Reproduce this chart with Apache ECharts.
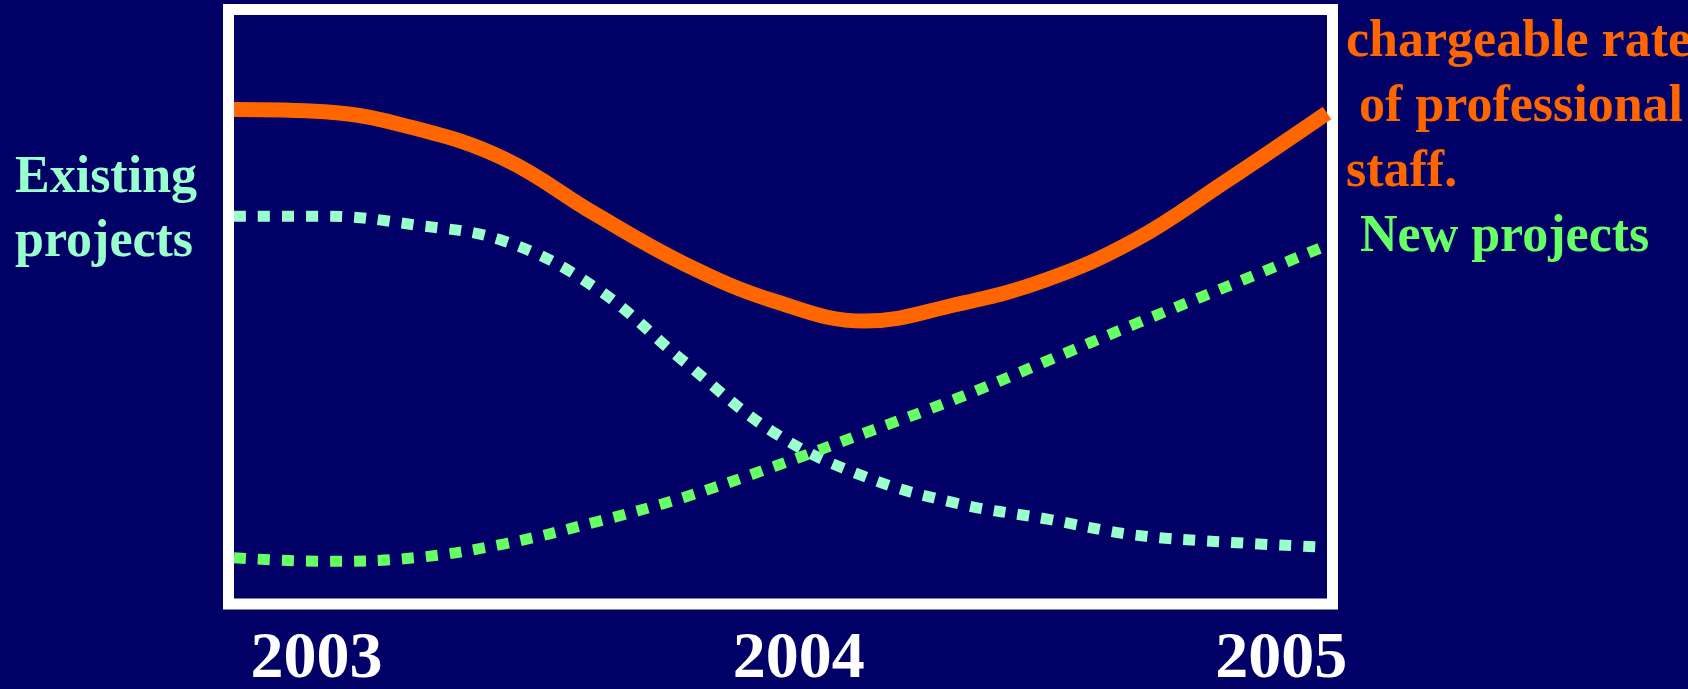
<!DOCTYPE html>
<html>
<head>
<meta charset="utf-8">
<script src="https://cdn.jsdelivr.net/npm/echarts@6/dist/echarts.min.js"></script>
<style>
html,body{margin:0;padding:0;background:#000066;}
#chart{width:1688px;height:689px;}
</style>
</head>
<body>
<div id="chart"></div>
<script>
// Year tick labels
const yearLabels = [2003, 2004, 2005];
// x range of the plotting box, in years
const xMin = 2002.829;
const xMax = 2005.095;
// Sample positions along the time axis (years)
const sampleYears = [2002.829, 2003.017, 2003.203, 2003.390, 2003.577, 2003.763, 2003.950,
                     2004.137, 2004.324, 2004.510, 2004.697, 2004.884, 2005.095];
// Chargeable rate of professional staff (relative level, 0-100)
const chargeableRate = [83.8, 83.4, 80.6, 75.3, 65.9, 57.3, 50.9, 47.5, 50.3, 54.5, 61.4, 71.4, 83.2];
// Existing projects
const existingProjects = [65.5, 65.5, 64.0, 61.2, 53.3, 40.5, 28.3, 20.8, 16.3, 13.6, 10.8, 9.6, 8.7];
// New projects
const newProjects = [6.9, 6.3, 6.9, 9.3, 13.0, 17.3, 22.6, 28.3, 34.1, 40.5, 47.0, 53.3, 60.5];

const pairs = ys => sampleYears.map((x, i) => [x, ys[i]]);
const serif = "'Liberation Serif','Times New Roman',serif";
const chart = echarts.init(document.getElementById('chart'), null, {renderer: 'canvas'});

const option = {
  backgroundColor: '#000066',
  animation: false,
  grid: [
    {left: 228.5, top: 9.5, right: 355.5, bottom: 85, show: true, outerBoundsMode: 'none',
     containLabel: false, borderColor: '#ffffff', borderWidth: 11, backgroundColor: 'transparent'},
    {left: 234, top: 15, right: 361, bottom: 91, outerBoundsMode: 'none', containLabel: false}
  ],
  xAxis: [
    {gridIndex: 0, type: 'value', show: false, min: 0, max: 1},
    {gridIndex: 1, type: 'value', min: xMin, max: xMax,
     axisLine: {show: false}, axisTick: {show: false}, splitLine: {show: false},
     axisLabel: {
       customValues: yearLabels,
       formatter: v => String(Math.round(v)),
       color: '#ffffff', fontFamily: serif, fontWeight: 'bold', fontSize: 66,
       margin: 29
     }}
  ],
  yAxis: [
    {gridIndex: 0, type: 'value', show: false, min: 0, max: 1},
    {gridIndex: 1, type: 'value', show: false, min: 0, max: 100}
  ],
  series: [
    {name: 'Existing projects', type: 'line', xAxisIndex: 1, yAxisIndex: 1,
     data: pairs(existingProjects), smooth: 0.4, showSymbol: false, symbol: 'none',
     lineStyle: {color: '#99FFCC', width: 11, type: [12, 12], cap: 'butt'}},
    {name: 'New projects', type: 'line', xAxisIndex: 1, yAxisIndex: 1,
     data: pairs(newProjects), smooth: 0.4, showSymbol: false, symbol: 'none',
     lineStyle: {color: '#66FF66', width: 11, type: [12, 12], cap: 'butt'}},
    {name: 'chargeable rate of professional staff.', type: 'line', xAxisIndex: 1, yAxisIndex: 1,
     data: pairs(chargeableRate), smooth: 0.4, showSymbol: false, symbol: 'none',
     lineStyle: {color: '#FF6600', width: 15, cap: 'butt'}}
  ],
  graphic: [
    {type: 'text', left: 15, top: 147,
     style: {text: 'Existing\nprojects', fill: '#99FFCC', font: 'bold 52px ' + serif,
             lineHeight: 64}},
    {type: 'text', left: 1346, top: 10,
     style: {text: 'chargeable rate\n of professional\nstaff.', fill: '#FF6600',
             font: 'bold 52px ' + serif, lineHeight: 65,
             textShadowColor: '#000000', textShadowOffsetX: 2, textShadowOffsetY: 2, textShadowBlur: 0}},
    {type: 'text', left: 1360, top: 212,
     style: {text: 'New projects', fill: '#66FF66', font: 'bold 52px ' + serif}}
  ]
};
chart.setOption(option);
</script>
</body>
</html>
